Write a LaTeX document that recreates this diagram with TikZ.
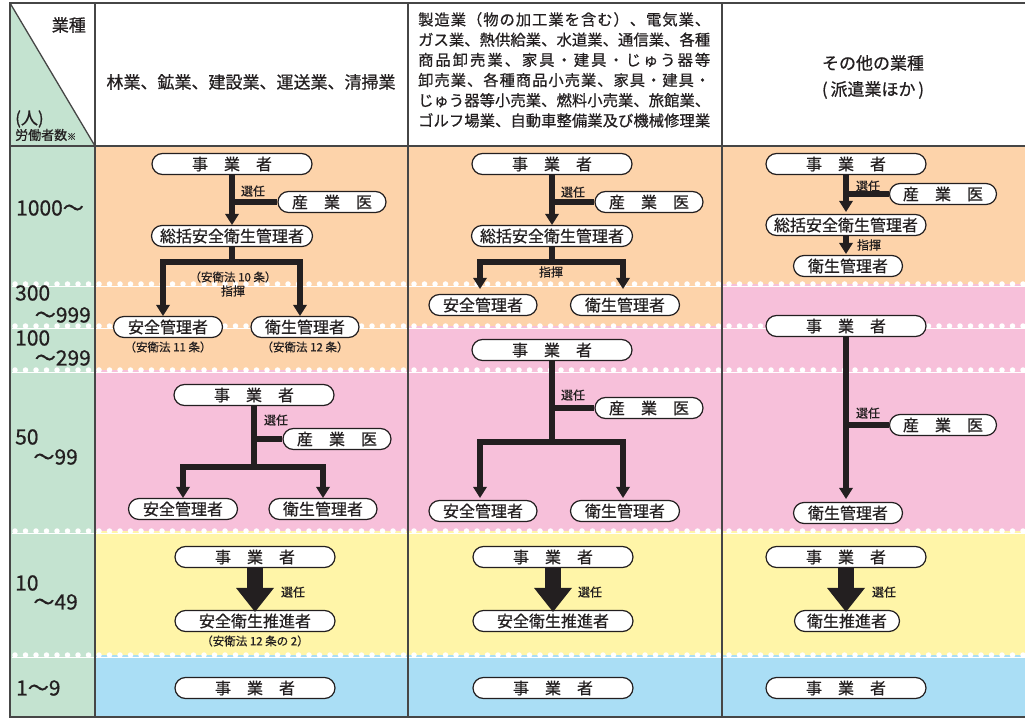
\documentclass[tikz,border=0pt]{standalone}
\usepackage{fontspec}
\setmainfont{Noto Sans CJK JP}[FakeBold=0.6]
\usetikzlibrary{arrows.meta}
\definecolor{cOr}{RGB}{253,211,170}
\definecolor{cPk}{RGB}{247,192,218}
\definecolor{cYl}{RGB}{255,245,168}
\definecolor{cBl}{RGB}{170,222,245}
\definecolor{cGr}{RGB}{196,227,208}
\definecolor{cLn}{RGB}{35,31,32}
\definecolor{cFr}{RGB}{70,70,70}
\def\spreadchars#1{\ifx#1\relax\else#1\hfill\expandafter\spreadchars\fi}
\newcommand{\jline}[1]{\hbox to 292pt{\spreadchars #1\relax\unskip}}
\newcommand{\gp}{\hspace{1em}}
\begin{document}
\begin{tikzpicture}[x=1pt,y=-1pt,
 pill/.style={draw=cLn, line width=1.2pt, fill=white, rounded corners=10.5pt, minimum height=21pt, inner sep=0pt, text=cLn, font=\fontsize{16}{16}\selectfont},
 conn/.style={draw=cLn, line width=6pt},
 arr/.style={-{Triangle[width=14pt,length=11pt,line width=0pt]}},
 bigarr/.style={draw=cLn, line width=16pt, -{Triangle[width=38pt,length=24pt,line width=0pt]}},
 lbl/.style={text=cLn, font=\fontsize{12}{12}\selectfont, inner sep=0pt},
 note/.style={text=cLn, font=\fontsize{11.5}{11.5}\selectfont, inner sep=0pt},
 rowlbl/.style={text=cLn, font=\fontsize{21}{21}\selectfont, inner sep=0pt},
 hdr/.style={text=cLn, font=\fontsize{17}{17}\selectfont, inner sep=0pt},
 dots/.style={white, line width=5.5pt, line cap=round, dash pattern=on 0pt off 10.5pt},
 frame/.style={draw=cFr, line width=2.5pt},
 inner/.style={draw=cFr, line width=1.3pt},
]
\useasboundingbox (0,0) rectangle (1025,719);
\fill[white] (0,0) rectangle (1025,719);
% backgrounds
\fill[cGr] (10,146) rectangle (95,717);
\fill[cGr] (10,3) -- (95,146) -- (10,146) -- cycle;
\fill[cOr] (95,146) rectangle (408,370);
\fill[cPk] (95,370) rectangle (408,531);
\fill[cOr] (408,146) rectangle (722,326);
\fill[cPk] (408,326) rectangle (722,531);
\fill[cOr] (722,146) rectangle (1025,284);
\fill[cPk] (722,284) rectangle (1025,531);
\fill[cYl] (95,531) rectangle (1025,655);
\fill[cBl] (95,655) rectangle (1025,717);
% dotted separators
\foreach \yy in {284,326,370,531,655}{
  \draw[white, line width=0.6pt] (12,\yy+2) -- (1025,\yy+2);
  \draw[dots] (15,\yy) -- (1025,\yy);
}
% frame
\draw[inner] (10,3) -- (95,146);
\draw[inner] (10,146) -- (1025,146);
\draw[inner] (95,3) -- (95,717);
\draw[inner] (408,3) -- (408,717);
\draw[inner] (722,3) -- (722,717);
\draw[frame] (1025,3) -- (10,3) -- (10,717) -- (1025,717);

% header texts
\node[hdr, anchor=east] (hGyo) at (86,25) {業種};
\node[hdr, anchor=west] (hNin) at (15,119) {(人)};
\node[text=cLn, font=\fontsize{13}{13}\selectfont, inner sep=0pt, anchor=west] (hRou) at (15,135) {労働者数{\fontsize{9}{9}\selectfont ※}};
\node[hdr] (h1) at (251,82) {林業、鉱業、建設業、運送業、清掃業};
\node[text=cLn, font=\fontsize{15.3}{20.2}\selectfont, inner sep=0pt, anchor=north west, align=left] (h2) at (418,12) {%
\jline{製造業（物の加工業を含む）、電気業、}\\
\jline{ガス業、熱供給業、水道業、通信業、各種}\\
\jline{商品卸売業、家具・建具・じゅう器等}\\
\jline{卸売業、各種商品小売業、家具・建具・}\\
\jline{じゅう器等小売業、燃料小売業、旅館業、}\\
\jline{ゴルフ場業、自動車整備業及び機械修理業}};
\node[hdr] (h3a) at (873,63) {その他の業種};
\node[hdr] (h3b) at (873,90) {(\,派遣業ほか\,)};

% row labels
\node[rowlbl, anchor=west] (r1000) at (16,208) {1000～};
\node[rowlbl, anchor=west] (r300) at (15,293) {300};
\node[rowlbl, anchor=east] (r999) at (91,315) {～999};
\node[rowlbl, anchor=west] (r100) at (15,338) {100};
\node[rowlbl, anchor=east] (r299) at (91,358) {～299};
\node[rowlbl, anchor=west] (r50) at (15,437) {50};
\node[rowlbl, anchor=east] (r99) at (78,457) {～99};
\node[rowlbl, anchor=west] (r10) at (15,583) {10};
\node[rowlbl, anchor=east] (r49) at (78,602) {～49};
\node[rowlbl, anchor=west] (r19) at (16,688) {1～9};

% ===== column 1 =====
\node[pill, minimum width=160pt] (j1a) at (232,164) {事\gp 業\gp 者};
\node[pill, minimum width=108pt] (s1a) at (332,202) {産\gp 業\gp 医};
\node[pill, minimum width=161pt] (t1a) at (232,236) {総括安全衛生管理者};
\node[pill, minimum width=109pt] (a1a) at (168,327) {安全管理者};
\node[pill, minimum width=108pt] (e1a) at (305,327) {衛生管理者};
\node[note] (n1a) at (168,347) {（安衛法 11 条）};
\node[note] (n1b) at (305,347) {（安衛法 12 条）};
\draw[conn] (s1a.west) -- (s1a.west -| j1a.south);
\draw[conn, arr] (j1a.south) -- (t1a.north);
\node[lbl] (l1a) at (253,191) {選任};
\draw[conn, arr] (t1a.south) -- ++(0,15) -| ([xshift=-5pt]a1a.north);
\draw[conn, arr] (t1a.south) -- ++(0,15) -| ([xshift=-5pt]e1a.north);
\node[note] (l1b) at (233,277) {（安衛法 10 条）};
\node[lbl] (l1c) at (233,291) {指揮};

\node[pill, minimum width=160pt] (j1b) at (254,395) {事\gp 業\gp 者};
\node[pill, minimum width=108pt] (s1b) at (337,439) {産\gp 業\gp 医};
\node[pill, minimum width=109pt] (a1b) at (183,509) {安全管理者};
\node[pill, minimum width=108pt] (e1b) at (323,509) {衛生管理者};
\draw[conn] (s1b.west) -- (s1b.west -| j1b.south);
\draw[conn, arr] (j1b.south) -- ++(0,61) -| (a1b.north);
\draw[conn, arr] (j1b.south) -- ++(0,61) -| (e1b.north);
\node[lbl] (l1d) at (276,420) {選任};

\node[pill, minimum width=160pt] (j1c) at (255,557) {事\gp 業\gp 者};
\node[pill, minimum width=160pt] (p1c) at (255,621) {安全衛生推進者};
\node[note] (n1c) at (255,641) {（安衛法 12 条の 2）};
\draw[bigarr] (j1c.south) -- ([yshift=-2pt]p1c.north);
\node[lbl] (l1e) at (293,592) {選任};
\node[pill, minimum width=160pt] (j1d) at (255,688) {事\gp 業\gp 者};

% ===== column 2 =====
\node[pill, minimum width=160pt] (j2a) at (552,164) {事\gp 業\gp 者};
\node[pill, minimum width=108pt] (s2a) at (649,202) {産\gp 業\gp 医};
\node[pill, minimum width=161pt] (t2a) at (552,236) {総括安全衛生管理者};
\node[pill, minimum width=108pt] (a2a) at (483,305) {安全管理者};
\node[pill, minimum width=109pt] (e2a) at (625,305) {衛生管理者};
\draw[conn] (s2a.west) -- (s2a.west -| j2a.south);
\draw[conn, arr] (j2a.south) -- (t2a.north);
\node[lbl] (l2a) at (573,192) {選任};
\draw[conn, arr, shorten >=5pt] (t2a.south) -- ++(0,15) -| ([xshift=-3pt]a2a.north);
\draw[conn, arr, shorten >=5pt] (t2a.south) -- ++(0,15) -| ([xshift=-2pt]e2a.north);
\node[lbl] (l2b) at (551,272) {指揮};

\node[pill, minimum width=160pt] (j2b) at (552,350) {事\gp 業\gp 者};
\node[pill, minimum width=108pt] (s2b) at (649,408) {産\gp 業\gp 医};
\node[pill, minimum width=108pt] (a2b) at (483,511) {安全管理者};
\node[pill, minimum width=109pt] (e2b) at (625,511) {衛生管理者};
\draw[conn] (s2b.west) -- (s2b.west -| j2b.south);
\draw[conn, arr, shorten >=2pt] (j2b.south) -- ++(0,81) -| ([xshift=-3pt]a2b.north);
\draw[conn, arr, shorten >=2pt] (j2b.south) -- ++(0,81) -| ([xshift=-2pt]e2b.north);
\node[lbl] (l2c) at (573,395) {選任};

\node[pill, minimum width=160pt] (j2c) at (553,557) {事\gp 業\gp 者};
\node[pill, minimum width=160pt] (p2c) at (553,621) {安全衛生推進者};
\draw[bigarr] (j2c.south) -- ([yshift=-2pt]p2c.north);
\node[lbl] (l2d) at (590,592) {選任};
\node[pill, minimum width=160pt] (j2d) at (553,688) {事\gp 業\gp 者};

% ===== column 3 =====
\node[pill, minimum width=160pt] (j3a) at (846,164) {事\gp 業\gp 者};
\node[pill, minimum width=107pt] (s3a) at (943,194) {産\gp 業\gp 医};
\node[pill, minimum width=160pt] (t3a) at (846,225) {総括安全衛生管理者};
\node[pill, minimum width=109pt] (e3a) at (848,266) {衛生管理者};
\draw[conn] (s3a.west) -- (s3a.west -| j3a.south);
\draw[conn, arr, shorten >=2pt] (j3a.south) -- (t3a.north);
\node[lbl] (l3a) at (868,186) {選任};
\draw[conn, arr, shorten >=1pt] (t3a.south) -- (t3a.south |- e3a.north);
\node[lbl] (l3b) at (869,245) {指揮};

\node[pill, minimum width=160pt] (j3b) at (846,326) {事\gp 業\gp 者};
\node[pill, minimum width=107pt] (s3b) at (943,425) {産\gp 業\gp 医};
\node[pill, minimum width=109pt] (e3b) at (848,513) {衛生管理者};
\draw[conn] (s3b.west) -- (s3b.west -| j3b.south);
\draw[conn, arr, shorten >=3pt] (j3b.south) -- (j3b.south |- e3b.north);
\node[lbl] (l3c) at (868,413) {選任};

\node[pill, minimum width=160pt] (j3c) at (846,557) {事\gp 業\gp 者};
\node[pill, minimum width=105pt] (p3c) at (847,621) {衛生推進者};
\draw[bigarr] (j3c.south) -- ([yshift=-2pt]j3c.south |- p3c.north);
\node[lbl] (l3d) at (884,592) {選任};
\node[pill, minimum width=160pt] (j3d) at (846,688) {事\gp 業\gp 者};
\end{tikzpicture}
\end{document}
